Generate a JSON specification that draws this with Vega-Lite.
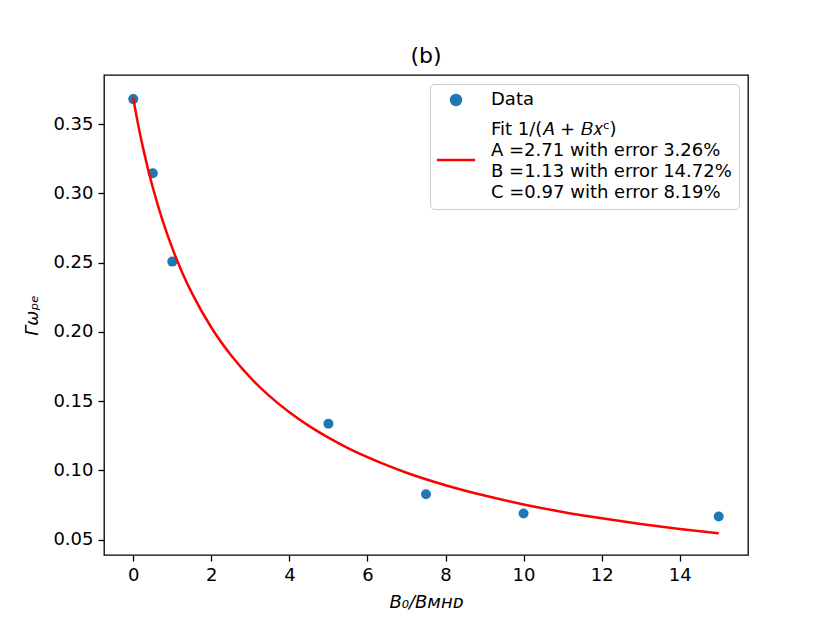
{
  "$schema": "https://vega.github.io/schema/vega-lite/v6.json",
  "autosize": "none",
  "width": 644,
  "height": 480,
  "padding": {"left": 104, "top": 75, "right": 82, "bottom": 68},
  "background": "white",
  "config": {
    "font": "DejaVu Sans",
    "view": {"stroke": "black", "strokeWidth": 1.3},
    "axis": {
      "grid": false,
      "domain": false,
      "tickColor": "black",
      "tickWidth": 1.3,
      "tickSize": 6,
      "labelPadding": 5,
      "labelFont": "DejaVu Sans",
      "labelFontSize": 18,
      "labelColor": "black",
      "titleFont": "DejaVu Sans",
      "titleFontSize": 18,
      "titleFontWeight": "normal",
      "titleFontStyle": "italic",
      "titleColor": "black"
    }
  },
  "title": {
    "text": "(b)",
    "fontSize": 22,
    "fontWeight": "normal",
    "font": "DejaVu Sans",
    "color": "black",
    "offset": 7
  },
  "datasets": {
    "points": [
      {"x": 0, "y": 0.368, "series": "Data"},
      {"x": 0.5, "y": 0.3145, "series": "Data"},
      {"x": 1, "y": 0.2507, "series": "Data"},
      {"x": 5, "y": 0.1336, "series": "Data"},
      {"x": 7.5, "y": 0.0828, "series": "Data"},
      {"x": 10, "y": 0.0688, "series": "Data"},
      {"x": 15, "y": 0.0667, "series": "Data"}
    ],
    "fit": [
      {"x": 0, "y": 0.369, "series": "Fit"},
      {"x": 0.02, "y": 0.3656, "series": "Fit"},
      {"x": 0.05, "y": 0.3608, "series": "Fit"},
      {"x": 0.1, "y": 0.3532, "series": "Fit"},
      {"x": 0.25, "y": 0.3328, "series": "Fit"},
      {"x": 0.5, "y": 0.3042, "series": "Fit"},
      {"x": 0.75, "y": 0.2805, "series": "Fit"},
      {"x": 1, "y": 0.2604, "series": "Fit"},
      {"x": 1.25, "y": 0.2431, "series": "Fit"},
      {"x": 1.5, "y": 0.2281, "series": "Fit"},
      {"x": 2, "y": 0.2031, "series": "Fit"},
      {"x": 2.5, "y": 0.1832, "series": "Fit"},
      {"x": 3, "y": 0.1669, "series": "Fit"},
      {"x": 3.5, "y": 0.1534, "series": "Fit"},
      {"x": 4, "y": 0.1419, "series": "Fit"},
      {"x": 4.5, "y": 0.1321, "series": "Fit"},
      {"x": 5, "y": 0.1236, "series": "Fit"},
      {"x": 5.5, "y": 0.1161, "series": "Fit"},
      {"x": 6, "y": 0.1095, "series": "Fit"},
      {"x": 7, "y": 0.0983, "series": "Fit"},
      {"x": 8, "y": 0.0893, "series": "Fit"},
      {"x": 9, "y": 0.0818, "series": "Fit"},
      {"x": 10, "y": 0.0754, "series": "Fit"},
      {"x": 11, "y": 0.07, "series": "Fit"},
      {"x": 12, "y": 0.0654, "series": "Fit"},
      {"x": 13, "y": 0.0613, "series": "Fit"},
      {"x": 14, "y": 0.0577, "series": "Fit"},
      {"x": 15, "y": 0.0545, "series": "Fit"}
    ]
  },
  "encoding": {
    "x": {
      "field": "x",
      "type": "quantitative",
      "scale": {"domain": [-0.75, 15.75], "nice": false, "zero": false},
      "axis": {"values": [0, 2, 4, 6, 8, 10, 12, 14], "title": "B₀/Bᴍʜᴅ", "titlePadding": 9}
    },
    "y": {
      "field": "y",
      "type": "quantitative",
      "scale": {"domain": [0.0389, 0.3854], "nice": false, "zero": false},
      "axis": {
        "values": [0.05, 0.1, 0.15, 0.2, 0.25, 0.3, 0.35],
        "format": ".2f",
        "title": "Γωₚₑ",
        "titlePadding": 11
      }
    },
    "color": {
      "field": "series",
      "type": "nominal",
      "scale": {"domain": ["Data", "Fit"], "range": ["#1f77b4", "#ff0000"]},
      "legend": {
        "title": null,
        "orient": "top-right",
        "offset": 9,
        "padding": 7,
        "fillColor": "white",
        "strokeColor": "#cccccc",
        "cornerRadius": 4,
        "symbolSize": 121,
        "symbolOffset": 10,
        "labelFont": "DejaVu Sans",
        "labelFontSize": 18,
        "labelColor": "black",
        "labelLimit": 500,
        "labelOffset": 26,
        "rowPadding": 11,
        "labelExpr": "datum.label === 'Data' ? 'Data' : ['Fit 1/(𝐴 + 𝐵𝑥ᶜ)', 'A =2.71 with error 3.26%', 'B =1.13 with error 14.72%', 'C =0.97 with error 8.19%']",
        "encode": {
          "symbols": {
            "update": {
              "shape": {"signal": "datum.value === 'Data' ? 'circle' : 'M-3.8,0H3.8'"},
              "size": {"value": 100},
              "fill": {"signal": "datum.value === 'Data' ? '#1f77b4' : 'transparent'"},
              "stroke": {"signal": "datum.value === 'Data' ? 'transparent' : '#ff0000'"},
              "strokeWidth": {"value": 2.5},
              "opacity": {"value": 1}
            }
          },
          "labels": {
            "update": {
              "lineHeight": {"value": 21},
              "dy": {"signal": "datum.value === 'Data' ? 0 : -30"}
            }
          }
        }
      }
    }
  },
  "layer": [
    {
      "data": {"name": "points"},
      "mark": {"type": "point", "filled": true, "size": 100, "opacity": 1}
    },
    {
      "data": {"name": "fit"},
      "mark": {"type": "line", "strokeWidth": 2.5, "interpolate": "monotone"}
    }
  ]
}
